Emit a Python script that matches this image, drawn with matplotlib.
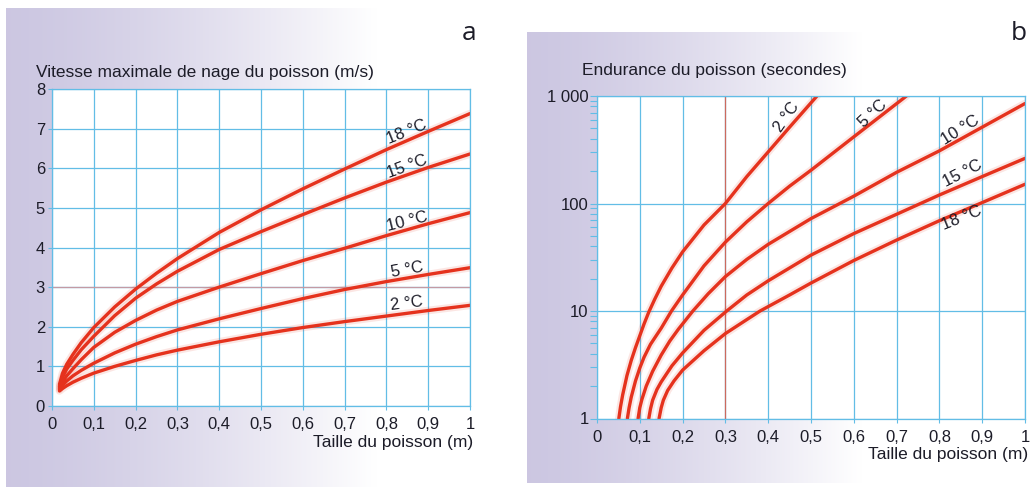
import numpy as np
import matplotlib.pyplot as plt
from matplotlib.ticker import FixedLocator, NullFormatter, LogLocator

plt.rcParams['font.family'] = ['Liberation Sans', 'DejaVu Sans']

# --- a : vitesse maximale (m/s) en fonction de la taille (m)
taille_a = [0.018, 0.025, 0.035, 0.05, 0.07, 0.1, 0.15, 0.2, 0.25, 0.3, 0.4, 0.5, 0.6, 0.7, 0.8, 0.9, 1.0]
vit_2 = [0.38, 0.44, 0.51, 0.60, 0.70, 0.83, 1.00, 1.15, 1.29, 1.41, 1.62, 1.81, 1.98, 2.13, 2.27, 2.41, 2.54]
vit_5 = [0.42, 0.52, 0.63, 0.76, 0.90, 1.08, 1.34, 1.56, 1.75, 1.92, 2.20, 2.46, 2.71, 2.94, 3.14, 3.32, 3.49]
vit_10 = [0.46, 0.60, 0.76, 0.94, 1.17, 1.48, 1.86, 2.16, 2.42, 2.64, 3.00, 3.34, 3.67, 3.98, 4.30, 4.60, 4.88]
vit_15 = [0.50, 0.72, 0.93, 1.15, 1.42, 1.76, 2.28, 2.72, 3.08, 3.40, 3.95, 4.40, 4.83, 5.25, 5.65, 6.02, 6.36]
vit_18 = [0.55, 0.82, 1.05, 1.30, 1.60, 1.98, 2.50, 2.95, 3.35, 3.72, 4.38, 4.95, 5.48, 5.98, 6.47, 6.93, 7.38]

# --- b : endurance (s) en fonction de la taille (m)
taille_b2 = [0.051, 0.055, 0.06, 0.07, 0.08, 0.09, 0.1, 0.11, 0.121, 0.135, 0.15, 0.175, 0.2,
             0.25, 0.3, 0.35, 0.4, 0.45, 0.514]
endu_2 = [1, 1.29, 1.66, 2.51, 3.47, 4.57, 5.89, 7.59, 9.77, 12.9, 17.0, 25.1, 35.5,
          63.1, 100, 178, 302, 513, 1000]
taille_b5 = [0.071, 0.075, 0.08, 0.09, 0.1, 0.11, 0.125, 0.15, 0.174, 0.2, 0.25, 0.3, 0.35,
             0.4, 0.45, 0.5, 0.6, 0.723]
endu_5 = [1, 1.26, 1.58, 2.24, 2.95, 3.72, 4.9, 6.92, 10, 14.1, 26.3, 43.7, 67.6,
          100, 145, 204, 417, 1000]
taille_b10 = [0.096, 0.1, 0.105, 0.115, 0.13, 0.15, 0.17, 0.19, 0.224, 0.26, 0.3, 0.35, 0.4,
              0.5, 0.6, 0.7, 0.8, 0.9, 1.0]
endu_10 = [1, 1.26, 1.51, 2.0, 2.75, 3.89, 5.25, 6.76, 10, 14.5, 20.9, 30.2, 41.7,
           72.4, 117, 195, 309, 513, 851]
taille_b15 = [0.121, 0.125, 0.13, 0.14, 0.15, 0.175, 0.2, 0.25, 0.303, 0.35, 0.4, 0.5, 0.6,
              0.7, 0.8, 0.9, 1.0]
endu_15 = [1, 1.23, 1.48, 1.86, 2.19, 3.09, 4.07, 6.61, 10, 14.1, 19.1, 33.1, 52.5,
           79.4, 120, 178, 263]
taille_b18 = [0.145, 0.15, 0.155, 0.165, 0.18, 0.2, 0.25, 0.3, 0.35, 0.381, 0.45, 0.5, 0.6,
              0.7, 0.8, 0.9, 1.0]
endu_18 = [1, 1.26, 1.48, 1.82, 2.24, 2.82, 4.27, 6.17, 8.32, 10, 14.1, 18.2, 29.5,
           45.7, 69.2, 102, 151]

x_ticks = [0, 0.1, 0.2, 0.3, 0.4, 0.5, 0.6, 0.7, 0.8, 0.9, 1.0]
x_labels = ['0', '0,1', '0,2', '0,3', '0,4', '0,5', '0,6', '0,7', '0,8', '0,9', '1']
y_ticks_b = [1, 10, 100, 1000]
y_labels_b = ['1', '10', '100', '1 000']

W, H = 1033, 487
RED = '#e5321d'
GRID = '#62bde6'
TXT = '#1c1c28'

fig = plt.figure(figsize=(W / 100, H / 100), dpi=100)

# fond dégradé lavande -> blanc
bg = fig.add_axes([0, 0, 1, 1], zorder=-10)
bg.set_xlim(0, W)
bg.set_ylim(H, 0)
bg.axis('off')
lav = np.array([0.80, 0.78, 0.885])
def gradient(frac_fade):
    f = np.linspace(0, 1, 400)
    t = np.clip(f / frac_fade, 0, 1) ** 1.4
    rgb = lav[None, :] + (1 - lav[None, :]) * t[:, None]
    return rgb[None, :, :]
bg.imshow(gradient(0.72), extent=[6, 520, H, 8], aspect='auto', interpolation='bilinear')
bg.imshow(gradient(0.66), extent=[527, W, 483, 32], aspect='auto', interpolation='bilinear')


def style_axes(ax):
    ax.set_facecolor('white')
    for s in ax.spines.values():
        s.set_color(GRID)
        s.set_linewidth(0.9)
    ax.grid(True, which='major', color=GRID, linewidth=0.9)
    ax.set_axisbelow(True)
    ax.xaxis.set_major_locator(FixedLocator(x_ticks))
    ax.set_xticklabels(x_labels)
    ax.tick_params(axis='x', direction='out', length=3, width=0.8, color=GRID,
                   labelsize=12, labelcolor=TXT, pad=5)


def courbe(ax, x, y):
    ax.plot(x, y, color=RED, lw=5.5, alpha=0.12, solid_capstyle='round', solid_joinstyle='round')
    ax.plot(x, y, color=RED, lw=2.4, solid_capstyle='round', solid_joinstyle='round')


# ---------- a ----------
ax1 = fig.add_axes([52 / W, (H - 406) / H, 418 / W, 317 / H])
style_axes(ax1)
ax1.set_xlim(0, 1)
ax1.set_ylim(0, 8)
ax1.yaxis.set_major_locator(FixedLocator(range(0, 9)))
ax1.tick_params(axis='y', direction='out', length=3, width=0.8, color=GRID,
                labelsize=12, labelcolor=TXT, pad=2)
ax1.axhline(3, color='#c49aa4', lw=0.9, zorder=0.6)
for v in [vit_2, vit_5, vit_10, vit_15, vit_18]:
    courbe(ax1, taille_a, v)

lab_a = [('18 °C', 0.849, 6.91, 22), ('15 °C', 0.849, 6.03, 20), ('10 °C', 0.849, 4.66, 14),
         ('5 °C', 0.849, 3.43, 10), ('2 °C', 0.849, 2.59, 7)]
for txt, x, y, r in lab_a:
    ax1.text(x, y, txt, rotation=r, ha='center', va='center', fontsize=12, color=TXT,
             rotation_mode='anchor')

# ---------- b ----------
ax2 = fig.add_axes([597 / W, (H - 418.5) / H, 428 / W, 322.5 / H])
style_axes(ax2)
ax2.set_xlim(0, 1)
ax2.set_yscale('log')
ax2.set_ylim(1, 1000)
ax2.yaxis.set_major_locator(FixedLocator(y_ticks_b))
ax2.set_yticklabels(y_labels_b)
ax2.yaxis.set_minor_locator(LogLocator(base=10, subs=np.arange(2, 10)))
ax2.yaxis.set_minor_formatter(NullFormatter())
ax2.tick_params(axis='y', which='major', direction='out', length=5, width=0.8, color=GRID,
                labelsize=12, labelcolor=TXT, pad=1)
ax2.tick_params(axis='y', which='minor', direction='out', length=5, width=0.8, color=GRID)
ax2.axvline(0.3, color='#cc6a5e', lw=0.9, zorder=0.6)
for x, y in [(taille_b2, endu_2), (taille_b5, endu_5), (taille_b10, endu_10),
             (taille_b15, endu_15), (taille_b18, endu_18)]:
    courbe(ax2, x, y)

lab_b = [('2 °C', 0.444, 636, 55), ('5 °C', 0.645, 690, 43), ('10 °C', 0.848, 480, 32),
         ('15 °C', 0.853, 191, 27), ('18 °C', 0.853, 73, 22)]
for txt, x, y, r in lab_b:
    ax2.text(x, y, txt, rotation=r, ha='center', va='center', fontsize=12, color=TXT,
             rotation_mode='anchor')

# ---------- textes ----------
def ftext(px, py, s, **kw):
    fig.text(px / W, 1 - py / H, s, color=TXT, **kw)

ftext(36, 72, 'Vitesse maximale de nage du poisson (m/s)', ha='left', va='center', fontsize=12.5)
ftext(473, 443, 'Taille du poisson (m)', ha='right', va='center', fontsize=12.5)
ftext(582, 70, 'Endurance du poisson (secondes)', ha='left', va='center', fontsize=12.5)
ftext(1028, 455, 'Taille du poisson (m)', ha='right', va='center', fontsize=12.5)
ftext(469, 39.5, 'a', ha='center', va='baseline', fontsize=19, family='Open Sans')
ftext(1019, 39.5, 'b', ha='center', va='baseline', fontsize=19, family='Open Sans')

fig.savefig('out.png', dpi=100)
